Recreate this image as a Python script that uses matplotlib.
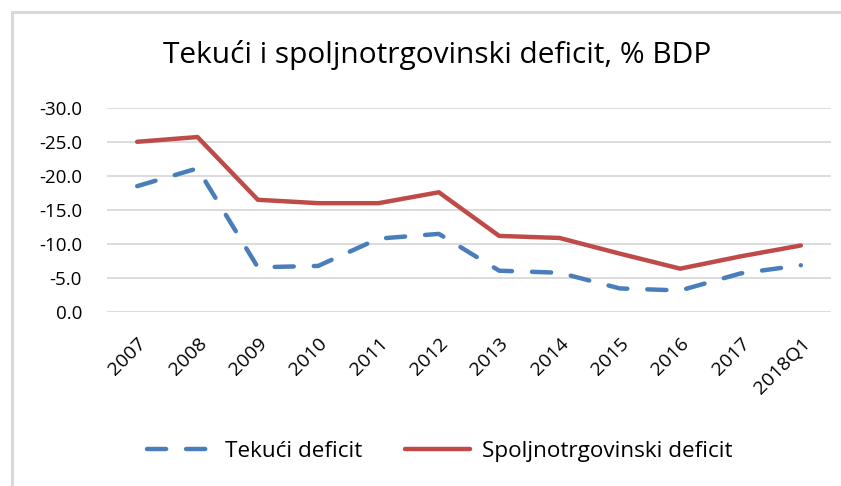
import matplotlib.pyplot as plt
from matplotlib.patches import Rectangle

plt.rcParams['font.family'] = ['Open Sans', 'DejaVu Sans']

categories = ['2007', '2008', '2009', '2010', '2011', '2012',
              '2013', '2014', '2015', '2016', '2017', '2018Q1']
tekuci = [-18.5, -21.1, -6.6, -6.8, -10.8, -11.5,
          -6.1, -5.8, -3.5, -3.2, -5.7, -6.9]
spoljno = [-25.0, -25.7, -16.5, -16.0, -16.0, -17.6,
           -11.2, -10.9, -8.6, -6.4, -8.2, -9.8]
yticks = [0, -5, -10, -15, -20, -25, -30]

W, H = 841, 486
fig = plt.figure(figsize=(W / 100, H / 100), dpi=100)

# chart frame (cut at right/bottom like the screenshot)
fig.patches.append(Rectangle((12 / W, -0.1), 1.2, 1.1 - 12 / H,
                             transform=fig.transFigure, fill=False,
                             edgecolor='#d9d9d9', linewidth=2.2))

ax = fig.add_axes([107 / W, 1 - 312.3 / H, (831 - 107) / W, (312.3 - 107.7) / H])
x = range(len(categories))

ax.plot(x, tekuci, color='#4a7ebb', linewidth=3.2, dashes=(4.3, 4.5),
        dash_capstyle='round', label='Tekući deficit', zorder=3)
ax.plot(x, spoljno, color='#be4b48', linewidth=3.2, solid_capstyle='round',
        label='Spoljnotrgovinski deficit', zorder=3)

ax.set_xlim(-0.5, len(categories) - 0.5)
ax.set_ylim(0, -30)
ax.set_yticks(yticks)
ax.set_yticklabels([f'{v:.1f}' for v in yticks], fontsize=13.5)
ax.set_xticks(list(x))
ax.set_xticklabels(categories, rotation=45, ha='right', rotation_mode='anchor',
                   fontsize=14)
ax.tick_params(axis='y', length=0, pad=18)
ax.tick_params(axis='x', length=0, pad=16)
ax.grid(axis='y', color='#d9d9d9', linewidth=1.3)
ax.set_axisbelow(True)
for s in ax.spines.values():
    s.set_visible(False)

fig.text(437 / W, 1 - 55 / H, 'Tekući i spoljnotrgovinski deficit, % BDP',
         ha='center', va='center', fontsize=21.5)

leg = fig.legend(loc='center', bbox_to_anchor=(440 / W, 1 - 451 / H),
                 ncol=2, frameon=False, fontsize=16.2, handlelength=2.9,
                 handletextpad=0.55, columnspacing=1.9)

fig.savefig('out.png', dpi=100)
